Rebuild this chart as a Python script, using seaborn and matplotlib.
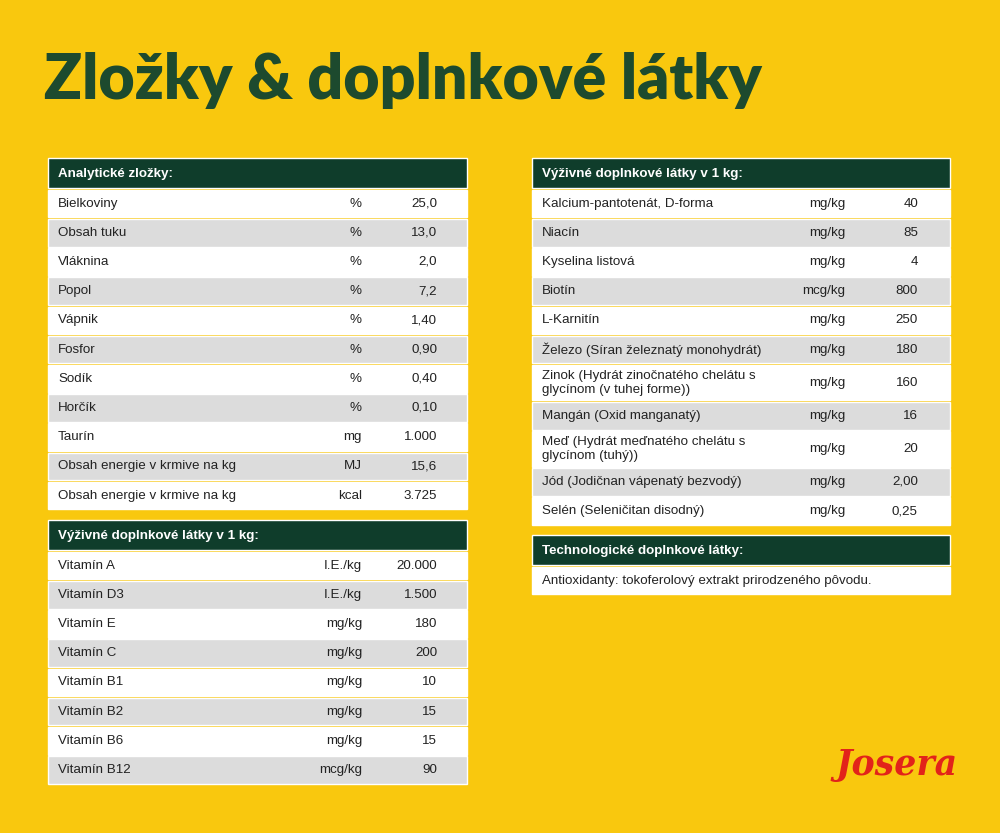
import matplotlib
matplotlib.use("Agg")
import matplotlib.pyplot as plt
import seaborn as sns

sns.set_style("white")
plt.rcParams['font.family'] = ['Liberation Sans', 'DejaVu Sans']

# Data
analytic_names = ["Bielkoviny", "Obsah tuku", "Vláknina", "Popol", "Vápnik", "Fosfor",
                  "Sodík", "Horčík", "Taurín", "Obsah energie v krmive na kg",
                  "Obsah energie v krmive na kg"]
analytic_units = ["%", "%", "%", "%", "%", "%", "%", "%", "mg", "MJ", "kcal"]
analytic_values = ["25,0", "13,0", "2,0", "7,2", "1,40", "0,90", "0,40", "0,10",
                   "1.000", "15,6", "3.725"]

vit_names = ["Vitamín A", "Vitamín D3", "Vitamín E", "Vitamín C", "Vitamín B1",
             "Vitamín B2", "Vitamín B6", "Vitamín B12"]
vit_units = ["I.E./kg", "I.E./kg", "mg/kg", "mg/kg", "mg/kg", "mg/kg", "mg/kg", "mcg/kg"]
vit_values = ["20.000", "1.500", "180", "200", "10", "15", "15", "90"]

add_names = ["Kalcium-pantotenát, D-forma", "Niacín", "Kyselina listová", "Biotín",
             "L-Karnitín", "Železo (Síran železnatý monohydrát)",
             "Zinok (Hydrát zinočnatého chelátu s\nglycínom (v tuhej forme))",
             "Mangán (Oxid manganatý)",
             "Meď (Hydrát meďnatého chelátu s\nglycínom (tuhý))",
             "Jód (Jodičnan vápenatý bezvodý)", "Selén (Seleničitan disodný)"]
add_units = ["mg/kg", "mg/kg", "mg/kg", "mcg/kg", "mg/kg", "mg/kg", "mg/kg", "mg/kg",
             "mg/kg", "mg/kg", "mg/kg"]
add_values = ["40", "85", "4", "800", "250", "180", "160", "16", "20", "2,00", "0,25"]

tech_text = ["Antioxidanty: tokoferolový extrakt prirodzeného pôvodu."]

BG = "#f9c80e"
GREEN = "#0f3d2b"
GRAY = "#dcdcdc"
ROW = 29.2
FS = 9.6

fig = plt.figure(figsize=(10, 8.33), dpi=100)
fig.patch.set_facecolor(BG)
ax = fig.add_axes([0, 0, 1, 1])
ax.set_facecolor(BG)
ax.set_xlim(0, 1000)
ax.set_ylim(833, 0)
ax.axis("off")

ax.text(44, 80, "Zložky & doplnkové látky", fontsize=45, fontweight="heavy",
        color="#1d4a2e", family=["Lato", "DejaVu Sans"], va="center")


def draw_table(x0, x1, top, title, names, units=None, values=None, unit_x=None,
               val_x=None, heights=None):
    ax.barh(top + 15, x1 - x0, height=30, left=x0, color=GREEN)
    ax.text(x0 + 10, top + 16, title, color="white", fontsize=FS, fontweight="bold",
            va="center")
    y = top + 31
    for i, name in enumerate(names):
        h = heights[i] if heights else ROW
        ax.barh(y + h / 2, x1 - x0, height=h - 1.5, left=x0,
                color="white" if i % 2 == 0 else GRAY)
        ax.text(x0 + 10, y + h / 2, name, fontsize=FS, va="center", color="#222222",
                linespacing=1.25)
        if units:
            ax.text(unit_x, y + h / 2, units[i], fontsize=FS, va="center", ha="right",
                    color="#222222")
            ax.text(val_x, y + h / 2, values[i], fontsize=FS, va="center", ha="right",
                    color="#222222")
        y += h


draw_table(48, 467, 158, "Analytické zložky:", analytic_names, analytic_units,
           analytic_values, 362, 437)
draw_table(48, 467, 520, "Výživné doplnkové látky v 1 kg:", vit_names, vit_units,
           vit_values, 362, 437)
add_heights = [ROW if "\n" not in n else 37 for n in add_names]
draw_table(532, 950, 158, "Výživné doplnkové látky v 1 kg:", add_names, add_units,
           add_values, 845, 918, add_heights)
draw_table(532, 950, 535, "Technologické doplnkové látky:", tech_text)

ax.text(897, 765, "Josera", fontsize=25, fontweight="bold", style="italic",
        color="#e2231a", family=["DejaVu Serif"], ha="center", va="center")

fig.savefig("out.png", dpi=100, facecolor=BG)
